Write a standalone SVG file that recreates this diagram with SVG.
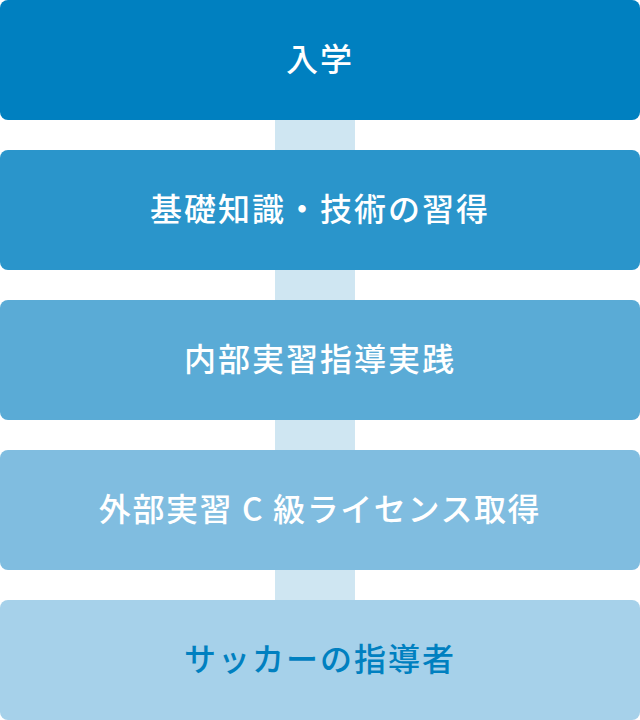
<svg xmlns="http://www.w3.org/2000/svg" width="640" height="720" viewBox="0 0 640 720">
<style>
.t{font-family:"Noto Sans CJK JP","Noto Sans",sans-serif;font-size:32px;font-weight:500;letter-spacing:2px;text-anchor:middle;fill:#ffffff}
.bar{fill:#CFE6F2}
</style>
<rect width="640" height="720" fill="#ffffff"/>
<g id="connectors">
<rect class="bar" x="275" y="110" width="80" height="50"/>
<rect class="bar" x="275" y="260" width="80" height="50"/>
<rect class="bar" x="275" y="410" width="80" height="50"/>
<rect class="bar" x="275" y="560" width="80" height="50"/>
</g>
<g id="n1"><rect x="0" y="0" width="640" height="120" rx="8" fill="#0080C0"/><text class="t" x="320" y="71">入学</text></g>
<g id="n2"><rect x="0" y="150" width="640" height="120" rx="8" fill="#2A95CB"/><text class="t" x="320" y="221">基礎知識・技術の習得</text></g>
<g id="n3"><rect x="0" y="300" width="640" height="120" rx="8" fill="#5AABD6"/><text class="t" x="320" y="371">内部実習指導実践</text></g>
<g id="n4"><rect x="0" y="450" width="640" height="120" rx="8" fill="#80BDE0"/><text class="t" x="320" y="521" style="letter-spacing:1.6px">外部実習 C 級ライセンス取得</text></g>
<g id="n5"><rect x="0" y="600" width="640" height="120" rx="8" fill="#A6D1EA"/><text class="t" x="320" y="671" style="fill:#0080C0">サッカーの指導者</text></g>
</svg>
